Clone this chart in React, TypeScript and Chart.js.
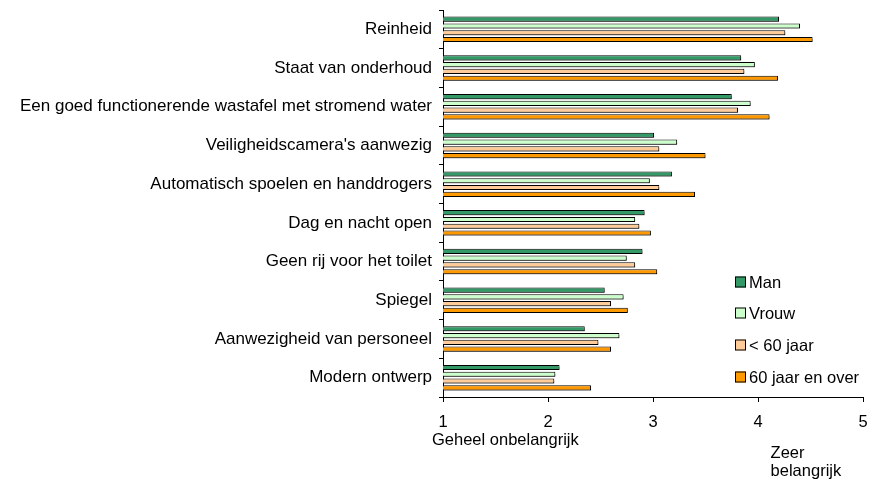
import React, { useEffect, useRef } from "react";
import { Chart, registerables } from "chart.js";

Chart.register(...registerables);

const categories = [
  "Reinheid",
  "Staat van onderhoud",
  "Een goed functionerende wastafel met stromend water",
  "Veiligheidscamera's aanwezig",
  "Automatisch spoelen en handdrogers",
  "Dag en nacht open",
  "Geen rij voor het toilet",
  "Spiegel",
  "Aanwezigheid van personeel",
  "Modern ontwerp",
];

const seriesNames = ["Man", "Vrouw", "< 60 jaar", "60 jaar en over"];
const seriesColors = ["#339966", "#CCFFCC", "#FFCC99", "#FF9900"];

const manValues = [4.2, 3.84, 3.75, 3.01, 3.18, 2.92, 2.9, 2.54, 2.35, 2.11];
const vrouwValues = [4.4, 3.97, 3.93, 3.23, 2.97, 2.83, 2.75, 2.72, 2.68, 2.07];
const under60Values = [4.26, 3.87, 3.81, 3.06, 3.06, 2.87, 2.83, 2.6, 2.48, 2.06];
const over60Values = [4.52, 4.19, 4.11, 3.5, 3.4, 2.98, 3.04, 2.76, 2.6, 2.41];

const xTicks = [1, 2, 3, 4, 5];
const xLeftLabel = "Geheel onbelangrijk";
const xRightLabel = ["Zeer", "belangrijk"];

const FONT = "Arial, 'Liberation Sans', sans-serif";
const FS = 16.5;
const FSY = 17;

export default function App() {
  const ref = useRef<HTMLCanvasElement | null>(null);

  useEffect(() => {
    if (!ref.current) return;
    const allValues = [manValues, vrouwValues, under60Values, over60Values];

    const shadowPlugin = {
      id: "barShadow",
      beforeDatasetsDraw(chart: any) {
        const ctx = chart.ctx;
        ctx.save();
        ctx.shadowColor = "rgba(0,0,0,0.35)";
        ctx.shadowOffsetX = 2;
        ctx.shadowOffsetY = 2;
        ctx.shadowBlur = 0;
      },
      afterDatasetsDraw(chart: any) {
        chart.ctx.restore();
      },
    };

    const extrasPlugin = {
      id: "extras",
      afterDraw(chart: any) {
        const ctx = chart.ctx;
        const area = chart.chartArea;
        const xs = chart.scales.x;
        ctx.save();
        // legend
        ctx.font = `${FS}px ${FONT}`;
        ctx.textBaseline = "middle";
        ctx.textAlign = "left";
        const offsets = [115, 84, 52, 20];
        seriesNames.forEach((name, i) => {
          const cy = area.bottom - offsets[i];
          const sx = area.right - 128;
          ctx.fillStyle = seriesColors[i];
          ctx.fillRect(sx, cy - 5.5, 11, 11);
          ctx.strokeStyle = "#000";
          ctx.lineWidth = 1;
          ctx.strokeRect(sx + 0.5, cy - 5, 10, 10);
          ctx.fillStyle = "#000";
          ctx.fillText(name, sx + 14, cy + 1);
        });
        // axis end labels
        ctx.textBaseline = "alphabetic";
        ctx.fillStyle = "#000";
        ctx.fillText(xLeftLabel, xs.getPixelForValue(1) - 11, 445);
        const rx = xs.getPixelForValue(4.12);
        ctx.fillText(xRightLabel[0], rx, 458);
        ctx.fillText(xRightLabel[1], rx, 476);
        ctx.restore();
      },
    };

    const chart = new Chart(ref.current, {
      type: "bar",
      data: {
        labels: categories,
        datasets: seriesNames.map((name, i) => ({
          label: name,
          data: allValues[i],
          backgroundColor: seriesColors[i],
          borderColor: "#000",
          borderWidth: 1,
          categoryPercentage: 0.7,
          barPercentage: 0.76,
        })),
      },
      options: {
        indexAxis: "y",
        animation: false,
        responsive: false,
        maintainAspectRatio: false,
        layout: { padding: { top: 10, right: 14, left: 0, bottom: 0 } },
        plugins: {
          legend: { display: false },
          tooltip: { enabled: false },
        },
        scales: {
          x: {
            min: 1,
            max: 5,
            afterBuildTicks(scale: any) {
              scale.ticks = xTicks.map((v) => ({ value: v }));
            },
            afterFit(scale: any) {
              scale.height = 83;
              scale.paddingLeft = 0;
              scale.paddingRight = 0;
            },
            grid: {
              drawOnChartArea: false,
              tickLength: 5,
              color: "#000",
            },
            border: { color: "#000", width: 1 },
            ticks: {
              color: "#000",
              font: { family: FONT, size: FS },
              padding: 11,
              maxRotation: 0,
            },
          },
          y: {
            afterFit(scale: any) {
              scale.width = 443;
              scale.paddingTop = 0;
              scale.paddingBottom = 0;
            },
            grid: {
              drawOnChartArea: false,
              offset: true,
              tickLength: 4,
              color: "#000",
            },
            border: { color: "#000", width: 1 },
            ticks: {
              color: "#000",
              font: { family: FONT, size: FSY },
              padding: 7,
              autoSkip: false,
            },
          },
        },
      },
      plugins: [shadowPlugin, extrasPlugin],
    } as any);
    return () => chart.destroy();
  }, []);

  return (
    <div style={{ position: "fixed", left: 0, top: 0, width: 877, height: 480, background: "#fff" }}>
      <canvas ref={ref} width={877} height={480} style={{ width: 877, height: 480 }} />
    </div>
  );
}
